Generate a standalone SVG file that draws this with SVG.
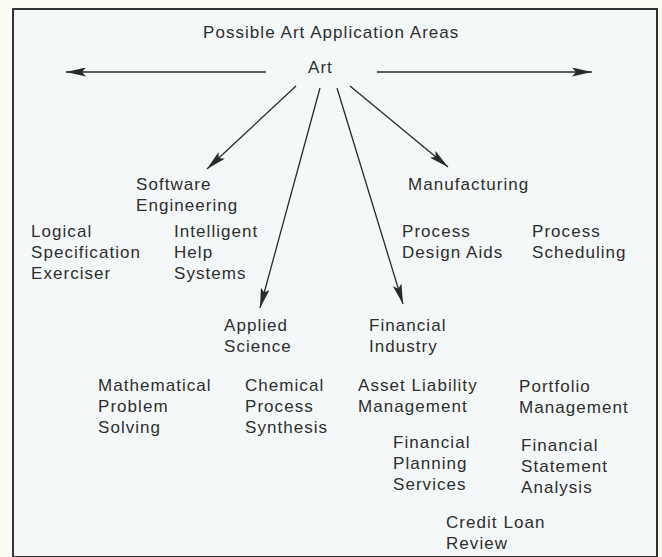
<svg xmlns="http://www.w3.org/2000/svg" width="662" height="557" viewBox="0 0 662 557">
<defs>
<style>
text{font-family:"Liberation Sans",Arial,sans-serif;font-size:17px;fill:#2e2e2e;letter-spacing:1.05px}
.ln{stroke:#2a2a2a;stroke-width:1.3;fill:none}
</style>
<marker id="ah" viewBox="0 0 20 9" refX="20" refY="4.5" markerWidth="20" markerHeight="9" markerUnits="userSpaceOnUse" orient="auto">
<path d="M0,0 L20,4.5 L0,9 L4,4.5 Z" fill="#2a2a2a"/>
</marker>
</defs>
<rect width="662" height="557" fill="#fbfaf3"/>
<rect x="13" y="9" width="644" height="548" fill="#f5f8f9" stroke="#333" stroke-width="2"/>
<g id="title"><text x="203" y="38">Possible Art Application Areas</text></g>
<g id="connectors">
<line class="ln" x1="266" y1="72" x2="66" y2="72" marker-end="url(#ah)"/>
<line class="ln" x1="377" y1="72" x2="592" y2="72" marker-end="url(#ah)"/>
<line class="ln" x1="296" y1="86" x2="207" y2="169" marker-end="url(#ah)"/>
<line class="ln" x1="320" y1="88" x2="260" y2="308" marker-end="url(#ah)"/>
<line class="ln" x1="337" y1="88" x2="403" y2="304" marker-end="url(#ah)"/>
<line class="ln" x1="350" y1="86" x2="448" y2="167" marker-end="url(#ah)"/>
</g>
<g id="art"><text x="308" y="73">Art</text></g>
<g id="software"><text x="136" y="190">Software</text><text x="136" y="211">Engineering</text></g>
<g id="logical"><text x="31" y="237">Logical</text><text x="31" y="258">Specification</text><text x="31" y="279">Exerciser</text></g>
<g id="intelligent"><text x="174" y="237">Intelligent</text><text x="174" y="258">Help</text><text x="174" y="279">Systems</text></g>
<g id="manufacturing"><text x="408" y="190">Manufacturing</text></g>
<g id="design"><text x="402" y="237">Process</text><text x="402" y="258">Design Aids</text></g>
<g id="scheduling"><text x="532" y="237">Process</text><text x="532" y="258">Scheduling</text></g>
<g id="applied"><text x="224" y="331">Applied</text><text x="224" y="352">Science</text></g>
<g id="financial"><text x="369" y="331">Financial</text><text x="369" y="352">Industry</text></g>
<g id="math"><text x="98" y="391">Mathematical</text><text x="98" y="412">Problem</text><text x="98" y="433">Solving</text></g>
<g id="chemical"><text x="245" y="391">Chemical</text><text x="245" y="412">Process</text><text x="245" y="433">Synthesis</text></g>
<g id="asset"><text x="358" y="391">Asset Liability</text><text x="358" y="412">Management</text></g>
<g id="portfolio"><text x="519" y="392">Portfolio</text><text x="519" y="413">Management</text></g>
<g id="planning"><text x="393" y="448">Financial</text><text x="393" y="469">Planning</text><text x="393" y="490">Services</text></g>
<g id="statement"><text x="521" y="451">Financial</text><text x="521" y="472">Statement</text><text x="521" y="493">Analysis</text></g>
<g id="credit"><text x="446" y="528">Credit Loan</text><text x="446" y="549">Review</text></g>
</svg>
